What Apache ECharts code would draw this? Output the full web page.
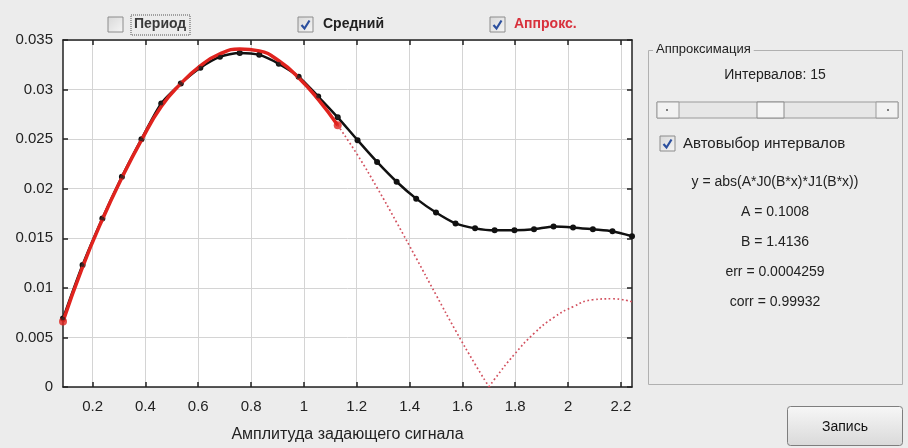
<!DOCTYPE html>
<html>
<head>
<meta charset="utf-8">
<script src="https://cdn.jsdelivr.net/npm/echarts@6/dist/echarts.min.js"></script>
<style>
html, body { margin: 0; padding: 0; background: #ececec; }
#echar { width: 908px; height: 448px; }
</style>
</head>
<body>
<div id="echar"></div>
<script>
// средние значения (чёрная линия)
var xs = [0.088, 0.162, 0.237, 0.311, 0.385, 0.460, 0.534, 0.608, 0.682, 0.757,
  0.831, 0.905, 0.980, 1.054, 1.128, 1.203, 1.277, 1.351, 1.425, 1.500,
  1.574, 1.648, 1.722, 1.797, 1.871, 1.945, 2.019, 2.094, 2.168, 2.242];
var meanY = [0.0069, 0.0123, 0.0170, 0.0212, 0.0250, 0.0286, 0.0306, 0.0322, 0.0333, 0.0337,
  0.0335, 0.0326, 0.0313, 0.0293, 0.0272, 0.0249, 0.0227, 0.0207, 0.0190, 0.0176,
  0.0165, 0.0160, 0.0158, 0.0158, 0.0159, 0.0162, 0.0161, 0.0159, 0.0157, 0.0152];

// аппроксимация (красная линия): сплошная часть, затем пунктир до нуля и после него
var fitX = [0.088, 0.162, 0.237, 0.311, 0.385, 0.460, 0.534, 0.608, 0.682, 0.757,
  0.831, 0.905, 0.980, 1.054, 1.128];
var fitY = [0.0066, 0.0121, 0.0169, 0.0211, 0.0249, 0.0283, 0.0306, 0.0324, 0.0336, 0.0341,
  0.0339, 0.0329, 0.0312, 0.0290, 0.0264];
var tailX1 = [1.128, 1.203, 1.277, 1.351, 1.425, 1.500, 1.574, 1.648, 1.701];
var tailY1 = [0.0264, 0.0234, 0.0201, 0.0166, 0.0130, 0.0093, 0.0057, 0.0023, 0.0000];
var tailX2 = [1.701, 1.722, 1.797, 1.871, 1.945, 2.019, 2.094, 2.168, 2.242];
var tailY2 = [0.0000, 0.0008, 0.0033, 0.0054, 0.0070, 0.0081, 0.0088, 0.0089, 0.0086];

var xTicks = [0.2, 0.4, 0.6, 0.8, 1, 1.2, 1.4, 1.6, 1.8, 2, 2.2];
var xLabels = ['0.2', '0.4', '0.6', '0.8', '1', '1.2', '1.4', '1.6', '1.8', '2', '2.2'];

var panelLines = ['y = abs(A*J0(B*x)*J1(B*x))', 'A = 0.1008', 'B = 1.4136', 'err = 0.0004259', 'corr = 0.99932'];

function pairs(x, y) {
  return x.map(function (v, i) { return [v, y[i]]; });
}

function checkbox(x, y, checked) {
  var els = [{
    type: 'rect', shape: { x: x, y: y, width: 15, height: 15 },
    style: { fill: new echarts.graphic.LinearGradient(0, 0, 1, 1, [
      { offset: 0, color: '#d8d8d8' }, { offset: 1, color: '#f6f6f6' }]),
      stroke: '#8c8c8c', lineWidth: 1 }
  }];
  if (checked) {
    els.push({
      type: 'polyline', shape: { points: [[x + 3.5, y + 8], [x + 6.5, y + 11.5], [x + 11.5, y + 3.5]] },
      style: { stroke: '#2b4f9e', lineWidth: 2.2, fill: null }
    });
  }
  return els;
}

var mychart = echarts.init(document.getElementById('echar'));

var font = '"Liberation Sans", Arial, sans-serif';
var gfx = [];
gfx = gfx.concat(checkbox(108, 17, false), checkbox(298, 17, true), checkbox(490, 17, true));
gfx.push(
  { type: 'text', left: 134, top: 17, style: { text: 'Период', font: 'bold 14px ' + font, fill: '#3a3a3a' } },
  { type: 'rect', shape: { x: 131, y: 15, width: 59, height: 20 },
    style: { fill: null, stroke: '#555', lineWidth: 1, lineDash: [1, 1] } },
  { type: 'text', left: 323, top: 17, style: { text: 'Средний', font: 'bold 14px ' + font, fill: '#222' } },
  { type: 'text', left: 514, top: 17, style: { text: 'Аппрокс.', font: 'bold 14px ' + font, fill: '#d8313c' } },

  // рамка группы
  { type: 'rect', shape: { x: 648.5, y: 50.5, width: 254, height: 334 },
    style: { fill: null, stroke: '#b0b0b0', lineWidth: 1 } },
  { type: 'text', left: 653, top: 43, style: { text: 'Аппроксимация', font: '13px ' + font, fill: '#222',
    backgroundColor: '#ececec', padding: [0, 3] } },
  { type: 'text', x: 775, y: 75, style: { text: 'Интервалов: 15', font: '14px ' + font, fill: '#222',
    align: 'center', verticalAlign: 'middle' } },

  // ползунок
  { type: 'rect', shape: { x: 657, y: 102, width: 241, height: 16 },
    style: { fill: '#e6e6e6', stroke: '#9a9a9a', lineWidth: 1 } },
  { type: 'rect', shape: { x: 657, y: 102, width: 22, height: 16 },
    style: { fill: '#f2f2f2', stroke: '#9a9a9a', lineWidth: 1 } },
  { type: 'rect', shape: { x: 876, y: 102, width: 22, height: 16 },
    style: { fill: '#f2f2f2', stroke: '#9a9a9a', lineWidth: 1 } },
  { type: 'rect', shape: { x: 757, y: 102, width: 27, height: 16 },
    style: { fill: '#f4f4f4', stroke: '#8a8a8a', lineWidth: 1 } },
  { type: 'circle', shape: { cx: 667, cy: 110, r: 1 }, style: { fill: '#555' } },
  { type: 'circle', shape: { cx: 888, cy: 110, r: 1 }, style: { fill: '#555' } }
);
gfx = gfx.concat(checkbox(660, 136, true));
gfx.push({ type: 'text', left: 683, top: 136, style: { text: 'Автовыбор интервалов', font: '15px ' + font, fill: '#222' } });
panelLines.forEach(function (t, i) {
  gfx.push({ type: 'text', x: 775, y: 182 + i * 30,
    style: { text: t, font: '14px ' + font, fill: '#222', align: 'center', verticalAlign: 'middle' } });
});
gfx.push(
  { type: 'rect', shape: { x: 787.5, y: 406.5, width: 115, height: 39, r: 3 },
    style: { fill: new echarts.graphic.LinearGradient(0, 0, 0, 1, [
      { offset: 0, color: '#f7f7f7' }, { offset: 1, color: '#d9d9d9' }]), stroke: '#7e7e7e', lineWidth: 1 } },
  { type: 'text', x: 845, y: 427, style: { text: 'Запись', font: '14px ' + font, fill: '#111',
    align: 'center', verticalAlign: 'middle' } }
);

var axisCommon = {
  type: 'value',
  min: 0.088,
  max: 2.242,
  axisLine: { onZero: false, lineStyle: { color: '#222', width: 1.5 } },
  axisTick: { inside: true, length: 5, customValues: xTicks, lineStyle: { color: '#222', width: 1.5 } }
};

var option = {
  backgroundColor: '#ececec',
  animation: false,
  textStyle: { fontFamily: font },
  grid: { left: 63, top: 40, width: 569, height: 347, show: true, backgroundColor: '#fff', borderWidth: 0 },
  xAxis: [
    Object.assign({}, axisCommon, {
      position: 'bottom',
      name: 'Амплитуда задающего сигнала',
      nameLocation: 'middle',
      nameGap: 40,
      nameTextStyle: { fontSize: 16, color: '#222' },
      axisLabel: { customValues: xTicks, margin: 12, fontSize: 15, color: '#222',
        formatter: function (v) { return xLabels[xTicks.indexOf(v)] || String(v); } },
      splitLine: { show: true, lineStyle: { color: '#d4d4d4', width: 1 } }
    }),
    Object.assign({}, axisCommon, {
      position: 'top',
      axisLabel: { show: false },
      splitLine: { show: false }
    })
  ],
  yAxis: [
    {
      type: 'value', min: 0, max: 0.035, interval: 0.005, position: 'left',
      axisLine: { show: true, lineStyle: { color: '#222', width: 1.5 } },
      axisTick: { show: true, inside: true, length: 5, lineStyle: { color: '#222', width: 1.5 } },
      axisLabel: { fontSize: 15, color: '#222', margin: 10,
        formatter: function (v) { return v === 0 ? '0' : v.toFixed(3).replace(/0+$/, ''); } },
      splitLine: { show: true, lineStyle: { color: '#d4d4d4', width: 1 } }
    },
    {
      type: 'value', min: 0, max: 0.035, interval: 0.005, position: 'right',
      axisLine: { show: true, lineStyle: { color: '#222', width: 1.5 } },
      axisTick: { show: true, inside: true, length: 5, lineStyle: { color: '#222', width: 1.5 } },
      axisLabel: { show: false },
      splitLine: { show: false }
    }
  ],
  series: [
    {
      name: 'Средний', type: 'line', data: pairs(xs, meanY), smooth: 0.25,
      symbol: 'circle', symbolSize: 6, itemStyle: { color: '#111' },
      lineStyle: { color: '#111', width: 2.5 }, z: 2
    },
    {
      name: 'Аппрокс.', type: 'line', data: pairs(fitX, fitY), smooth: true,
      showSymbol: false, lineStyle: { color: '#e0231e', width: 3.5 }, z: 3
    },
    {
      type: 'line', data: pairs(tailX1, tailY1), smooth: true,
      showSymbol: false, lineStyle: { color: '#d2505e', width: 1.7, type: [1.7, 2.6] }, z: 3
    },
    {
      type: 'line', data: pairs(tailX2, tailY2), smooth: true,
      showSymbol: false, lineStyle: { color: '#d2505e', width: 1.7, type: [1.7, 2.6] }, z: 3
    },
    {
      type: 'scatter', data: [[fitX[0], fitY[0]], [fitX[fitX.length - 1], fitY[fitY.length - 1]]],
      symbolSize: 8, itemStyle: { color: '#e0231e' }, z: 4
    },
    {
      type: 'scatter', data: pairs(xs, meanY).slice(0, fitX.length),
      symbolSize: 4, itemStyle: { color: '#222', opacity: 0.8 }, z: 5
    }
  ],
  graphic: gfx
};

mychart.setOption(option);
</script>
</body>
</html>
